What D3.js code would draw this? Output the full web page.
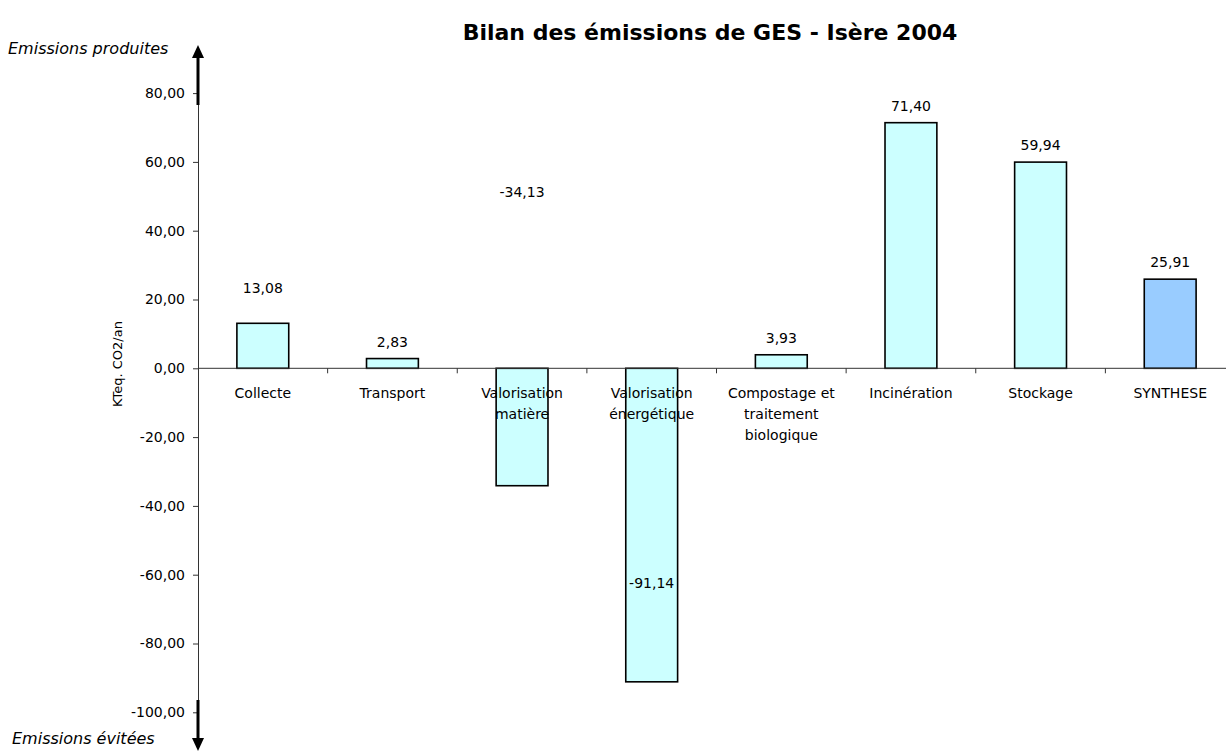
<!DOCTYPE html>
<html>
<head>
<meta charset="utf-8">
<script src="https://cdn.jsdelivr.net/npm/d3@7"></script>
<style>
  body { margin: 0; background: #fff; }
  svg { display: block; font-family: "DejaVu Sans", Verdana, sans-serif; }
</style>
</head>
<body>
<svg id="chart" width="1226" height="751"></svg>
<script>
// data
var categories = ["Collecte", "Transport", "Valorisation\nmatière", "Valorisation\nénergétique",
  "Compostage et\ntraitement\nbiologique", "Incinération", "Stockage", "SYNTHESE"]
var values = [13.08, 2.83, -34.13, -91.14, 3.93, 71.40, 59.94, 25.91]
// where labels were moved by hand (in data units), null = default above the bar
var labelAt = [23.3, null, 51.3, -62.5, null, null, null, null]
var yTicks = [-100, -80, -60, -40, -20, 0, 20, 40, 60, 80]
var totalName = "SYNTHESE"

var svg = d3.select("#chart")

var fr = d3.formatLocale({ decimal: ",", thousands: " ", grouping: [3], currency: ["", " €"], minus: "-" })
var fmt = fr.format(".2f")

var x = d3.scaleBand()
  .domain(categories)
  .range([198, 1235])
  .paddingInner(0.6)
  .paddingOuter(0.3)

var y = d3.scaleLinear()
  .domain([-100, 80])
  .range([712.3, 93.1])

// title
svg.append("text")
  .attr("x", 710)
  .attr("y", 40)
  .attr("text-anchor", "middle")
  .attr("font-size", 22)
  .attr("font-weight", "bold")
  .text("Bilan des émissions de GES - Isère 2004")

// bars
svg.append("g")
  .selectAll("rect")
  .data(values)
  .enter()
  .append("rect")
  .attr("x", (d, i) => x(categories[i]))
  .attr("y", (d) => y(Math.max(0, d)))
  .attr("width", x.bandwidth())
  .attr("height", (d) => Math.abs(y(d) - y(0)))
  .attr("fill", (d, i) => categories[i] == totalName ? "#99ccff" : "#ccffff")
  .attr("stroke", "#000")
  .attr("stroke-width", 1.6)

// y axis
var yAxis = d3.axisLeft(y)
  .tickValues(yTicks)
  .tickSize(5)
  .tickSizeOuter(0)
  .tickPadding(8)
  .tickFormat(fmt)

var gy = svg.append("g")
  .attr("transform", "translate(198,0)")
  .call(yAxis)
gy.select(".domain").attr("stroke", "#333")
gy.selectAll(".tick line").attr("stroke", "#333")
gy.selectAll(".tick text")
  .attr("font-size", 14)
  .attr("font-family", "DejaVu Sans, Verdana, sans-serif")
  .attr("fill", "#000")

// category axis on zero line
var gx = svg.append("g")
gx.append("line")
  .attr("x1", x.range()[0]).attr("x2", x.range()[1])
  .attr("y1", y(0)).attr("y2", y(0))
  .attr("stroke", "#333")
gx.selectAll(".sep")
  .data(d3.range(1, categories.length))
  .enter()
  .append("line")
  .attr("x1", (i) => x.range()[0] + i * x.step())
  .attr("x2", (i) => x.range()[0] + i * x.step())
  .attr("y1", y(0))
  .attr("y2", y(0) + 5)
  .attr("stroke", "#333")

var catText = gx.selectAll(".cat")
  .data(categories)
  .enter()
  .append("text")
  .attr("text-anchor", "middle")
  .attr("font-size", 14)
  .attr("transform", (d) => "translate(" + (x(d) + x.bandwidth() / 2) + "," + (y(0) + 30) + ")")
catText.selectAll("tspan")
  .data((d) => d.split("\n"))
  .enter()
  .append("tspan")
  .attr("x", 0)
  .attr("y", (d, i) => i * 21)
  .text((d) => d)

// value labels
svg.append("g")
  .selectAll("text")
  .data(values)
  .enter()
  .append("text")
  .attr("x", (d, i) => x(categories[i]) + x.bandwidth() / 2)
  .attr("y", (d, i) => labelAt[i] != null ? y(labelAt[i]) + 5 : y(d) - 12)
  .attr("text-anchor", "middle")
  .attr("font-size", 14)
  .text((d) => fmt(d))

// y title
svg.append("text")
  .attr("transform", "translate(122,364) rotate(-90)")
  .attr("text-anchor", "middle")
  .attr("font-size", 13)
  .text("KTeq. CO2/an")

// arrows
var arrow = svg.append("g")
arrow.append("line")
  .attr("x1", 198).attr("x2", 198)
  .attr("y1", 56).attr("y2", 105)
  .attr("stroke", "#000").attr("stroke-width", 3)
arrow.append("path")
  .attr("d", "M198,45 L204,58 L192,58 Z")
  .attr("fill", "#000")
arrow.append("line")
  .attr("x1", 198).attr("x2", 198)
  .attr("y1", 700).attr("y2", 741)
  .attr("stroke", "#000").attr("stroke-width", 3)
arrow.append("path")
  .attr("d", "M198,751 L204,738 L192,738 Z")
  .attr("fill", "#000")

svg.append("text")
  .attr("x", 8).attr("y", 54)
  .attr("font-size", 16)
  .attr("font-style", "italic")
  .text("Emissions produites")
svg.append("text")
  .attr("x", 12).attr("y", 744)
  .attr("font-size", 16)
  .attr("font-style", "italic")
  .text("Emissions évitées")
</script>
</body>
</html>
